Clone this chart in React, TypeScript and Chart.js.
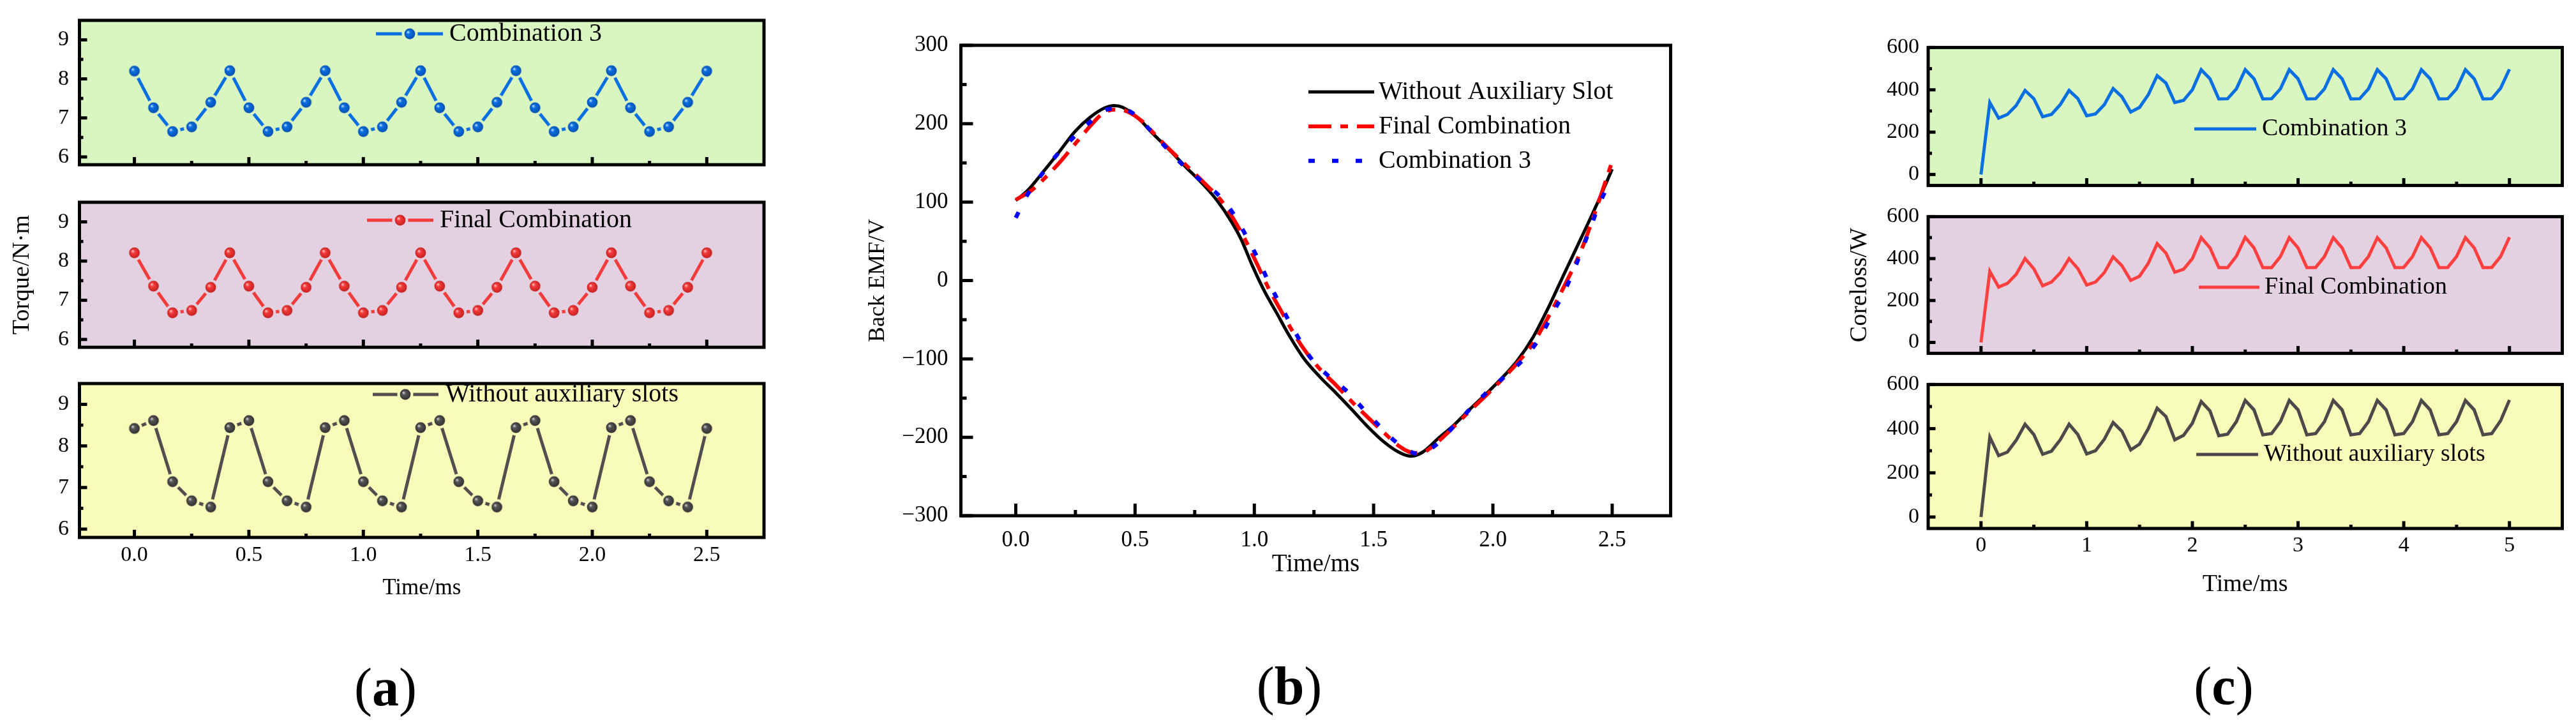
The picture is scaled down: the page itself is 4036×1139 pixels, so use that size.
import React, { useEffect, useRef } from 'react';
import { Chart, registerables } from 'chart.js';

Chart.register(...registerables);
Chart.defaults.font.family = '"Liberation Serif", "Times New Roman", serif';
Chart.defaults.color = '#000';

document.body.style.margin = '0';

// ===== (a) torque =====
const torqueTime = [0, 0.0833, 0.1667, 0.25, 0.3333, 0.4167, 0.5, 0.5833, 0.6667, 0.75, 0.8333, 0.9167, 1, 1.0833, 1.1667, 1.25, 1.3333, 1.4167, 1.5, 1.5833, 1.6667, 1.75, 1.8333, 1.9167, 2, 2.0833, 2.1667, 2.25, 2.3333, 2.4167, 2.5];
const torqueComb3 = [8.2, 7.26, 6.65, 6.77, 7.4, 8.21, 7.26, 6.65, 6.77, 7.4, 8.21, 7.26, 6.65, 6.77, 7.4, 8.21, 7.26, 6.65, 6.77, 7.4, 8.21, 7.26, 6.65, 6.77, 7.4, 8.21, 7.26, 6.65, 6.77, 7.4, 8.2];
const torqueFinal = [8.21, 7.36, 6.68, 6.74, 7.33, 8.21, 7.36, 6.68, 6.74, 7.33, 8.21, 7.36, 6.68, 6.74, 7.33, 8.21, 7.36, 6.68, 6.74, 7.33, 8.21, 7.36, 6.68, 6.74, 7.33, 8.21, 7.36, 6.68, 6.74, 7.33, 8.21];
const torqueWithout = [8.42, 8.61, 7.14, 6.68, 6.53, 8.44, 8.61, 7.14, 6.68, 6.53, 8.44, 8.61, 7.14, 6.68, 6.53, 8.44, 8.61, 7.14, 6.68, 6.53, 8.44, 8.61, 7.14, 6.68, 6.53, 8.44, 8.61, 7.14, 6.68, 6.53, 8.42];
const torqueXTicks = [0, 0.5, 1, 1.5, 2, 2.5];
const torqueXMinor = [0.25, 0.75, 1.25, 1.75, 2.25];
const torqueYTicks = [6, 7, 8, 9];
const torqueYMinor = [6.5, 7.5, 8.5];

// ===== (b) back EMF =====
const emfTimeWithout = [0, 0.05, 0.116, 0.182, 0.248, 0.315, 0.372, 0.414, 0.447, 0.513, 0.579, 0.646, 0.712, 0.778, 0.844, 0.902, 0.944, 0.993, 1.043, 1.093, 1.142, 1.209, 1.275, 1.341, 1.407, 1.474, 1.54, 1.606, 1.656, 1.705, 1.772, 1.838, 1.904, 1.97, 2.036, 2.103, 2.169, 2.235, 2.301, 2.368, 2.434, 2.5];
const emfWithout = [102, 115, 139, 164, 190, 209, 220, 223, 221, 207, 186, 166, 145, 125, 102, 76, 53, 18, -14, -41, -68, -100, -123, -143, -164, -186, -205, -219, -224, -219, -201, -184, -164, -145, -125, -102, -72, -33, 10, 53, 96, 142];
const emfTimeFinal = [0, 0.066, 0.116, 0.182, 0.248, 0.315, 0.364, 0.414, 0.464, 0.53, 0.596, 0.662, 0.728, 0.795, 0.861, 0.91, 0.96, 1.01, 1.06, 1.109, 1.159, 1.209, 1.275, 1.341, 1.407, 1.474, 1.54, 1.606, 1.672, 1.722, 1.772, 1.838, 1.904, 1.97, 2.036, 2.103, 2.169, 2.235, 2.301, 2.368, 2.434, 2.5];
const emfFinal = [103, 115, 129, 150, 174, 198, 213, 218, 216, 203, 182, 162, 143, 123, 102, 80, 53, 22, -10, -37, -64, -88, -113, -133, -154, -174, -193, -211, -220, -217, -205, -186, -166, -147, -127, -105, -80, -45, -6, 37, 92, 152];
const emfTimeComb3 = [0, 0.05, 0.108, 0.166, 0.24, 0.315, 0.397, 0.447, 0.497, 0.563, 0.629, 0.695, 0.778, 0.853, 0.919, 0.969, 1.018, 1.06, 1.109, 1.175, 1.242, 1.308, 1.391, 1.457, 1.523, 1.606, 1.689, 1.772, 1.838, 1.904, 1.987, 2.07, 2.136, 2.202, 2.252, 2.301, 2.351, 2.401, 2.45, 2.5];
const emfComb3 = [80, 110, 135, 158, 182, 203, 219, 219, 212, 192, 170, 149, 127, 108, 82, 55, 26, -2, -31, -68, -101, -121, -142, -164, -185, -209, -221, -207, -185, -164, -139, -117, -98, -70, -41, -13, 22, 61, 100, 131];
const emfXTicks = [0, 0.5, 1, 1.5, 2, 2.5];
const emfXMinor = [0.25, 0.75, 1.25, 1.75, 2.25];
const emfYTicks = [-300, -200, -100, 0, 100, 200, 300];
const emfYMinor = [-250, -150, -50, 50, 150, 250];

// ===== (c) core loss =====
const coreTime = [0, 0.0833, 0.1667, 0.25, 0.3333, 0.4167, 0.5, 0.5833, 0.6667, 0.75, 0.8333, 0.9167, 1, 1.0833, 1.1667, 1.25, 1.3333, 1.4167, 1.5, 1.5833, 1.6667, 1.75, 1.8333, 1.9167, 2, 2.0833, 2.1667, 2.25, 2.3333, 2.4167, 2.5, 2.5833, 2.6667, 2.75, 2.8333, 2.9167, 3, 3.0833, 3.1667, 3.25, 3.3333, 3.4167, 3.5, 3.5833, 3.6667, 3.75, 3.8333, 3.9167, 4, 4.0833, 4.1667, 4.25, 4.3333, 4.4167, 4.5, 4.5833, 4.6667, 4.75, 4.8333, 4.9167, 5];
const coreComb3 = [0, 340, 266, 284, 326, 397, 358, 273, 284, 330, 397, 358, 277, 286, 330, 406, 367, 295, 317, 377, 467, 432, 340, 350, 400, 495, 452, 357, 358, 405, 495, 452, 357, 358, 405, 495, 452, 357, 358, 405, 495, 452, 357, 358, 405, 495, 452, 357, 358, 405, 495, 452, 357, 358, 405, 495, 452, 357, 358, 408, 497];
const coreFinal = [0, 339, 264, 282, 325, 400, 351, 270, 288, 332, 400, 352, 274, 288, 333, 408, 366, 296, 316, 378, 471, 426, 335, 349, 400, 500, 451, 357, 357, 412, 501, 451, 357, 357, 410, 500, 451, 357, 358, 410, 500, 451, 357, 358, 410, 500, 451, 357, 358, 410, 500, 451, 357, 358, 410, 500, 451, 357, 358, 410, 502];
const coreWithout = [0, 362, 278, 294, 348, 420, 373, 284, 298, 350, 420, 373, 286, 300, 352, 428, 388, 304, 330, 400, 493, 455, 350, 370, 425, 523, 480, 368, 375, 432, 528, 485, 372, 378, 432, 528, 485, 372, 378, 432, 528, 485, 372, 378, 432, 528, 485, 372, 378, 432, 528, 485, 372, 378, 432, 528, 485, 372, 378, 436, 530];
const coreXTicks = [0, 1, 2, 3, 4, 5];
const coreXMinor = [0.5, 1.5, 2.5, 3.5, 4.5];
const coreYTicks = [0, 200, 400, 600];
const coreYMinor = [100, 300, 500];

// ===== types =====

interface Rect { x: number; y: number; w: number; h: number }
interface Frame { l: number; t: number; r: number; b: number }
interface AxisText { text: string; size: number; pad: number }
interface AxisSpec {
  min: number; max: number;
  ticks: number[]; minor: number[];
  fmt: (v: number) => string;
  labels: boolean; pad: number;
  title?: AxisText;
}
interface LegendEntry { ds: number; x1: number; x2: number; y: number; tx: number; mx?: number }
interface PanelSpec {
  rect: Rect; frame: Frame;
  x: AxisSpec; y: AxisSpec;
  tickSize: number;
  bg?: string;
  frameW: number; tickW: number; majorLen: number; minorLen: number;
  datasets: any[];
  legend: LegendEntry[]; legendSize: number;
}

const pts = (xs: number[], ys: number[]) => xs.map((x, i) => ({ x, y: ys[i] }));
const minus = (v: number) => (v < 0 ? '\u2212' + Math.abs(v) : String(v));

// shaded ball marker with a ring of background colour (the gap round each symbol)
function sphere(base: string, light: string, dark: string, gap: string): HTMLCanvasElement {
  const size = 28;
  const c = document.createElement('canvas');
  c.width = size;
  c.height = size;
  const g = c.getContext('2d')!;
  const m = size / 2;
  g.fillStyle = gap;
  g.beginPath();
  g.arc(m, m, 12.5, 0, Math.PI * 2);
  g.fill();
  const grad = g.createRadialGradient(m - 3, m - 3, 0.5, m, m, 8.6);
  grad.addColorStop(0, light);
  grad.addColorStop(0.3, base);
  grad.addColorStop(1, dark);
  g.fillStyle = grad;
  g.beginPath();
  g.arc(m, m, 8.4, 0, Math.PI * 2);
  g.fill();
  return c;
}

// background, inward ticks, frame and legend
function decoPlugin(spec: PanelSpec) {
  return {
    id: 'deco',
    beforeDraw(chart: Chart) {
      if (!spec.bg) return;
      const { ctx, chartArea: a } = chart;
      ctx.save();
      ctx.fillStyle = spec.bg;
      ctx.fillRect(a.left, a.top, a.right - a.left, a.bottom - a.top);
      ctx.restore();
    },
    afterDatasetsDraw(chart: Chart) {
      const { ctx, chartArea: a } = chart;
      const xs = chart.scales.x;
      const ys = chart.scales.y;
      ctx.save();
      ctx.strokeStyle = '#000';
      ctx.lineCap = 'butt';
      ctx.setLineDash([]);
      ctx.lineWidth = spec.tickW;
      const seg = (x1: number, y1: number, x2: number, y2: number) => {
        ctx.beginPath();
        ctx.moveTo(x1, y1);
        ctx.lineTo(x2, y2);
        ctx.stroke();
      };
      spec.x.ticks.forEach(v => { const p = xs.getPixelForValue(v); seg(p, a.bottom, p, a.bottom - spec.majorLen); });
      spec.x.minor.forEach(v => { const p = xs.getPixelForValue(v); seg(p, a.bottom, p, a.bottom - spec.minorLen); });
      spec.y.ticks.forEach(v => { const p = ys.getPixelForValue(v); seg(a.left, p, a.left + spec.majorLen, p); });
      spec.y.minor.forEach(v => { const p = ys.getPixelForValue(v); seg(a.left, p, a.left + spec.minorLen, p); });
      ctx.lineWidth = spec.frameW;
      ctx.lineJoin = 'miter';
      ctx.strokeRect(a.left, a.top, a.right - a.left, a.bottom - a.top);

      spec.legend.forEach(e => {
        const ds: any = chart.data.datasets[e.ds];
        const ox = spec.rect.x;
        const oy = spec.rect.y;
        ctx.strokeStyle = ds.borderColor;
        ctx.lineWidth = ds.borderWidth;
        ctx.setLineDash(ds.borderDash || []);
        seg(e.x1 - ox, e.y - oy, e.x2 - ox, e.y - oy);
        ctx.setLineDash([]);
        if (e.mx !== undefined && ds.pointStyle instanceof HTMLCanvasElement) {
          const img = ds.pointStyle as HTMLCanvasElement;
          ctx.drawImage(img, e.mx - ox - img.width / 2, e.y - oy - img.height / 2);
        }
        ctx.fillStyle = '#000';
        ctx.font = `${spec.legendSize}px "Liberation Serif", serif`;
        ctx.textAlign = 'left';
        ctx.textBaseline = 'middle';
        ctx.fillText(ds.label, e.tx - ox, e.y - oy);
      });
      ctx.restore();
    },
  };
}

function scaleOptions(ax: AxisSpec, isX: boolean, size: number, fixed: number) {
  return {
    type: 'linear' as const,
    position: isX ? 'bottom' : 'left',
    min: ax.min,
    max: ax.max,
    grid: { display: false, drawTicks: false },
    border: { display: false },
    ticks: {
      display: ax.labels,
      padding: ax.pad,
      color: '#000',
      autoSkip: false,
      maxRotation: 0,
      minRotation: 0,
      font: { size, lineHeight: 1.2 },
      callback: (v: any) => ax.fmt(Number(v)),
    },
    title: ax.title
      ? {
          display: true,
          text: ax.title.text,
          color: '#000',
          font: { size: ax.title.size, lineHeight: 1 },
          padding: isX ? { top: 0, bottom: ax.title.pad } : { top: ax.title.pad, bottom: 0 },
        }
      : { display: false },
    afterBuildTicks: (s: any) => { s.ticks = ax.ticks.map(v => ({ value: v })); },
    afterFit: (s: any) => { if (isX) s.height = fixed; else s.width = fixed; },
  };
}

function buildConfig(spec: PanelSpec): any {
  const { rect, frame } = spec;
  return {
    type: 'line',
    data: { datasets: spec.datasets },
    options: {
      animation: false,
      responsive: false,
      maintainAspectRatio: false,
      events: [],
      layout: { padding: { left: 0, top: frame.t - rect.y, right: rect.x + rect.w - frame.r, bottom: 0 } },
      plugins: { legend: { display: false }, tooltip: { enabled: false } },
      scales: {
        x: scaleOptions(spec.x, true, spec.tickSize, rect.y + rect.h - frame.b),
        y: scaleOptions(spec.y, false, spec.tickSize, frame.l - rect.x),
      },
    },
    plugins: [decoPlugin(spec)],
  };
}

function Panel({ spec }: { spec: PanelSpec }) {
  const canvasRef = useRef<HTMLCanvasElement>(null);
  useEffect(() => {
    if (!canvasRef.current) return;
    const chart = new Chart(canvasRef.current, buildConfig(spec));
    return () => chart.destroy();
  }, [spec]);
  const { x, y, w, h } = spec.rect;
  return (
    <canvas
      ref={canvasRef}
      width={w}
      height={h}
      style={{ position: 'absolute', left: x, top: y, width: w, height: h }}
    />
  );
}

// ===== panel specs =====

const GREEN = '#d9f6c1';
const PURPLE = '#e3d1e1';
const YELLOW = '#f7fdb9';
const BLUE = '#0a6fe0';
const RED = '#f23c3c';
const GREY = '#4f4f4f';

const torqueLine = (label: string, ys: number[], color: string, marker: HTMLCanvasElement) => ({
  label,
  data: pts(torqueTime, ys),
  borderColor: color,
  borderWidth: 5,
  tension: 0,
  pointStyle: marker,
  pointRadius: 8,
  clip: 4,
});

const coreLine = (label: string, ys: number[], color: string) => ({
  label,
  data: pts(coreTime, ys),
  borderColor: color,
  borderWidth: 5,
  tension: 0,
  pointRadius: 0,
  borderJoinStyle: 'miter',
});

function torquePanel(y: number, t: number, b: number, bg: string, ds: any, showX: boolean, legend: LegendEntry, yTitle?: AxisText): PanelSpec {
  return {
    rect: { x: 0, y, w: 1210, h: showX ? b + 110 - y : b + 24 - y },
    frame: { l: 124.5, t, r: 1199, b },
    x: {
      min: -0.24, max: 2.75, ticks: torqueXTicks, minor: torqueXMinor, fmt: v => v.toFixed(1),
      labels: showX, pad: 7.6,
      title: showX ? { text: 'Time/ms', size: 35, pad: 12.5 } : undefined,
    },
    y: { min: 5.8, max: 9.5, ticks: torqueYTicks, minor: torqueYMinor, fmt: v => String(v), labels: true, pad: 16.5, title: yTitle },
    tickSize: 34,
    bg,
    frameW: 5, tickW: 5, majorLen: 12, minorLen: 6,
    datasets: [ds],
    legend: [legend],
    legendSize: 40,
  };
}

function corePanel(y: number, t: number, b: number, bg: string, ds: any, showX: boolean, legend: LegendEntry, yTitle?: AxisText): PanelSpec {
  return {
    rect: { x: 2850, y, w: 1176, h: showX ? b + 120 - y : b + 24 - y },
    frame: { l: 3021, t, r: 4014.5, b },
    x: {
      min: -0.5, max: 5.5, ticks: coreXTicks, minor: coreXMinor, fmt: v => String(v),
      labels: showX, pad: 6.6,
      title: showX ? { text: 'Time/ms', size: 38, pad: 13 } : undefined,
    },
    y: { min: -52, max: 600, ticks: coreYTicks, minor: coreYMinor, fmt: v => String(v), labels: true, pad: 14, title: yTitle },
    tickSize: 34,
    bg,
    frameW: 5, tickW: 5, majorLen: 11.5, minorLen: 6,
    datasets: [ds],
    legend: [legend],
    legendSize: 38,
  };
}

const specs: PanelSpec[] = [
  torquePanel(-5, 19.5, 271, GREEN,
    torqueLine('Combination 3', torqueComb3, BLUE, sphere(BLUE, '#b9dcff', '#0550b0', GREEN)), false,
    { ds: 0, x1: 589, x2: 694, y: 53, tx: 704, mx: 642 }),
  torquePanel(280, 304.5, 557, PURPLE,
    torqueLine('Final Combination', torqueFinal, RED, sphere('#f73b3b', '#ffc0c0', '#c02020', PURPLE)), false,
    { ds: 0, x1: 575, x2: 679, y: 345, tx: 689, mx: 627 },
    { text: 'Torque/N\u00b7m', size: 38, pad: 16 }),
  torquePanel(564, 588.5, 842, YELLOW,
    torqueLine('Without auxiliary slots', torqueWithout, GREY, sphere('#555555', '#c8c8c8', '#303030', YELLOW)), true,
    { ds: 0, x1: 584, x2: 687, y: 618, tx: 698, mx: 635 }),
  {
    rect: { x: 1300, y: 30, w: 1330, h: 888 },
    frame: { l: 1505.5, t: 64, r: 2617.5, b: 808 },
    x: {
      min: -0.23, max: 2.745, ticks: emfXTicks, minor: emfXMinor, fmt: v => v.toFixed(1),
      labels: true, pad: 18, title: { text: 'Time/ms', size: 39, pad: 13.5 },
    },
    y: {
      min: -300, max: 300, ticks: emfYTicks, minor: emfYMinor, fmt: minus,
      labels: true, pad: 20, title: { text: 'Back EMF/V', size: 36, pad: 58 },
    },
    tickSize: 35,
    frameW: 5, tickW: 5, majorLen: 19, minorLen: 9,
    datasets: [
      { label: 'Without Auxiliary Slot', data: pts(emfTimeWithout, emfWithout), borderColor: '#000', borderWidth: 5, pointRadius: 0, cubicInterpolationMode: 'monotone', order: 3 },
      { label: 'Final Combination', data: pts(emfTimeFinal, emfFinal), borderColor: '#ff0000', borderWidth: 6, borderDash: [36, 14, 12, 14], pointRadius: 0, cubicInterpolationMode: 'monotone', order: 2 },
      { label: 'Combination 3', data: pts(emfTimeComb3, emfComb3), borderColor: '#0000ff', borderWidth: 6.5, borderDash: [10, 27], pointRadius: 0, cubicInterpolationMode: 'monotone', order: 1 },
    ],
    legend: [
      { ds: 0, x1: 2050, x2: 2153, y: 144, tx: 2160 },
      { ds: 1, x1: 2050, x2: 2153, y: 198, tx: 2160 },
      { ds: 2, x1: 2050, x2: 2153, y: 252, tx: 2160 },
    ],
    legendSize: 40,
  },
  corePanel(40, 67, 301, GREEN, coreLine('Combination 3', coreComb3, BLUE), false,
    { ds: 0, x1: 3438, x2: 3535, y: 202, tx: 3544 }),
  corePanel(305, 331, 564, PURPLE, coreLine('Final Combination', coreFinal, '#ff4040'), false,
    { ds: 0, x1: 3445, x2: 3540, y: 450, tx: 3548 },
    { text: 'Coreloss/W', size: 38, pad: 45 }),
  corePanel(568, 594, 828, YELLOW, coreLine('Without auxiliary slots', coreWithout, '#4a4a4a'), true,
    { ds: 0, x1: 3441, x2: 3538, y: 712, tx: 3547 }),
];

const captions = [
  { letter: 'a', x: 604, y: 1077 },
  { letter: 'b', x: 2020, y: 1075 },
  { letter: 'c', x: 3484, y: 1075 },
];

export default function App() {
  return (
    <div style={{ position: 'relative', width: 4036, height: 1139, background: '#fff', overflow: 'hidden' }}>
      {specs.map((s, i) => <Panel key={i} spec={s} />)}
      {captions.map(c => (
        <div
          key={c.letter}
          style={{
            position: 'absolute', left: c.x, top: c.y, transform: 'translate(-50%, -50%)',
            fontFamily: '"Liberation Serif", serif', fontSize: 84, lineHeight: 1, color: '#000', whiteSpace: 'nowrap',
          }}
        >
          (<b>{c.letter}</b>)
        </div>
      ))}
    </div>
  );
}
